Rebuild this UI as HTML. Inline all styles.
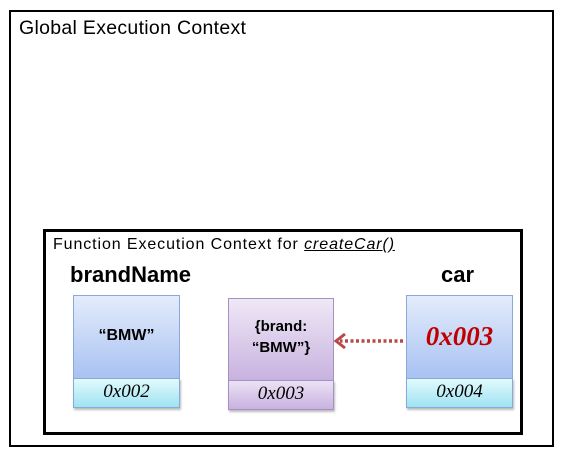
<!DOCTYPE html>
<html><head><style>
body{margin:0;width:567px;height:456px;background:#fff;position:relative;font-family:"Liberation Sans",sans-serif;overflow:hidden}
.abs{position:absolute;box-sizing:border-box}
.t{position:absolute;white-space:nowrap}
.ser{font-family:"Liberation Serif",serif;font-style:italic}
</style></head><body>
<div class="abs" style="left:9px;top:10px;width:545px;height:437px;border:2px solid #000"></div>
<div class="t" style="left:19px;top:17px;font-size:19.5px;letter-spacing:0.3px">Global Execution Context</div>
<div class="abs" style="left:43px;top:229px;width:480px;height:206px;border:3px solid #000"></div>
<div class="t" style="left:53px;top:236px;font-size:16px;letter-spacing:0.9px">Function Execution Context for <span style="font-style:italic;text-decoration:underline">createCar()</span></div>
<div class="t" style="left:70px;top:262px;font-size:22px;font-weight:bold">brandName</div>
<div class="t" style="left:441px;top:262px;font-size:22px;font-weight:bold">car</div>

<div class="abs" style="left:73px;top:295px;width:107px;height:84px;border:1px solid #8aa8d8;background:linear-gradient(#e4ecfb,#a8c2f2)"></div>
<div class="abs" style="left:73px;top:378px;width:107px;height:30px;border:1px solid #8aa8d8;background:linear-gradient(#e2fafd,#9ee3f2);box-shadow:1px 2px 2px #bbb"></div>
<div class="t" style="left:73px;top:327px;width:107px;text-align:center;font-size:16px;font-weight:bold">“BMW”</div>
<div class="t ser" style="left:73px;top:381px;width:107px;text-align:center;font-size:19px">0x002</div>

<div class="abs" style="left:228px;top:298px;width:106px;height:83px;border:1px solid #a88fc4;background:linear-gradient(#efe8f6,#c8b2df)"></div>
<div class="abs" style="left:228px;top:380px;width:106px;height:30px;border:1px solid #a88fc4;background:linear-gradient(#ece2f5,#c8b2df);box-shadow:1px 2px 2px #bbb"></div>
<div class="t" style="left:228px;top:316px;width:106px;text-align:center;font-size:15px;font-weight:bold;line-height:21px">{brand:<br>“BMW”}</div>
<div class="t ser" style="left:228px;top:383px;width:106px;text-align:center;font-size:19px">0x003</div>

<div class="abs" style="left:406px;top:295px;width:107px;height:84px;border:1px solid #8aa8d8;background:linear-gradient(#e4ecfb,#a8c2f2)"></div>
<div class="abs" style="left:406px;top:378px;width:107px;height:30px;border:1px solid #8aa8d8;background:linear-gradient(#e2fafd,#9ee3f2);box-shadow:1px 2px 2px #bbb"></div>
<div class="t ser" style="left:406px;top:321px;width:107px;text-align:center;font-size:27px;font-weight:bold;color:#c00000">0x003</div>
<div class="t ser" style="left:406px;top:381px;width:107px;text-align:center;font-size:19px">0x004</div>

<svg class="abs" style="left:330px;top:330px" width="80" height="22">
<line x1="73" y1="11" x2="10" y2="11" stroke="#b84a4a" stroke-width="3.5" stroke-dasharray="3,2.5"/>
<polyline points="15,4 6,11 15,18" fill="none" stroke="#b84a4a" stroke-width="3"/>
</svg>
</body></html>
